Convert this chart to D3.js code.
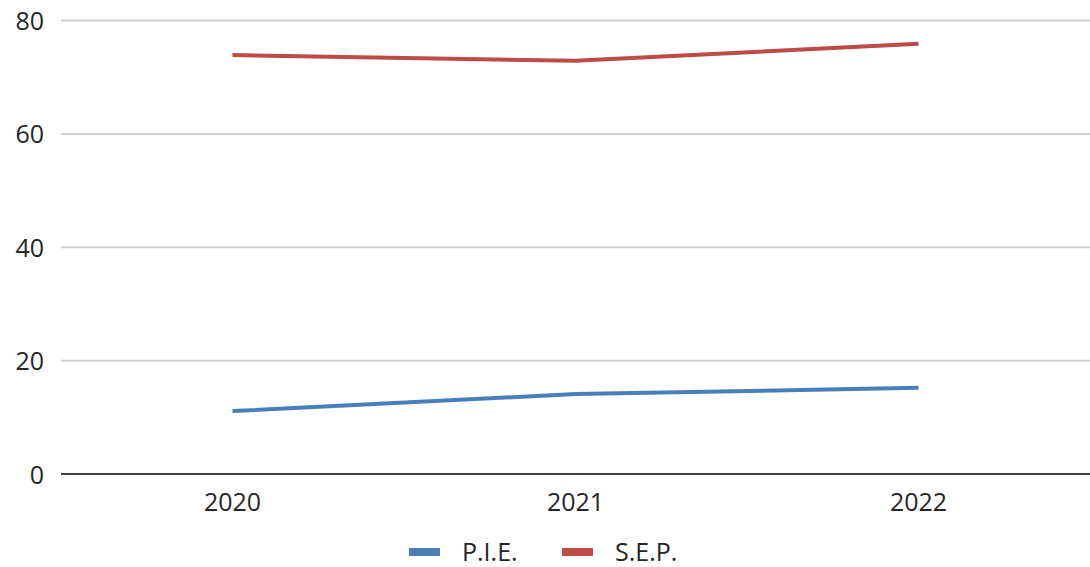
<!DOCTYPE html>
<html><head><meta charset="utf-8">
<script src="https://cdn.jsdelivr.net/npm/d3@7"></script>
<style>body{margin:0;background:#fff;} text{font-family:"Open Sans",sans-serif;fill:#262626;}</style>
</head><body><svg id="c" width="1090" height="567"></svg>
<script>
const categories = ["2020","2021","2022"];
const pieValues = [11.1, 14.1, 15.2];
const sepValues = [73.9, 72.9, 75.9];
const yTicks = [0,20,40,60,80];
const seriesNames = ["P.I.E.","S.E.P."];
const colors = ["#4a7ebb","#be4b48"];

(function(){
const svg = d3.select("#c");
const mLeft = 61, mRight = 1090, mTop = 20.5, mBottom = 474;
const x = d3.scalePoint().domain(categories).range([mLeft, mRight]).padding(0.5);
const y = d3.scaleLinear().domain([0,80]).range([mBottom, mTop]);

svg.append("g").selectAll("line").data(yTicks.filter(d=>d>0)).join("line")
  .attr("x1", mLeft).attr("x2", mRight).attr("y1", d=>y(d)).attr("y2", d=>y(d))
  .attr("stroke", "#d0d0d0").attr("stroke-width", 2);
svg.append("g").selectAll("text").data(yTicks).join("text")
  .attr("x", 44).attr("y", d=>y(d)+9.5).attr("text-anchor","end")
  .attr("font-size", 25).text(d=>d);
svg.append("line").attr("x1", mLeft).attr("x2", mRight).attr("y1", y(0)).attr("y2", y(0))
  .attr("stroke", "#404040").attr("stroke-width", 2);
svg.append("g").selectAll("text").data(categories).join("text")
  .attr("x", d=>x(d)).attr("y", 511).attr("text-anchor","middle")
  .attr("font-size", 25).text(d=>d);

const line = d3.line().x((d,i)=>x(categories[i])).y(d=>y(d));
[pieValues, sepValues].forEach((vals,i)=>{
  svg.append("path").datum(vals).attr("d", line).attr("fill","none")
    .attr("stroke", colors[i]).attr("stroke-width", 4).attr("stroke-linejoin","round");
});

const legX = [409, 562];
seriesNames.forEach((n,i)=>{
  svg.append("line").attr("x1", legX[i]).attr("x2", legX[i]+31).attr("y1", 552).attr("y2", 552)
    .attr("stroke", colors[i]).attr("stroke-width", 8);
  svg.append("text").attr("x", legX[i]+53).attr("y", 561).attr("font-size", 25).text(n);
});
})();
</script></body></html>
